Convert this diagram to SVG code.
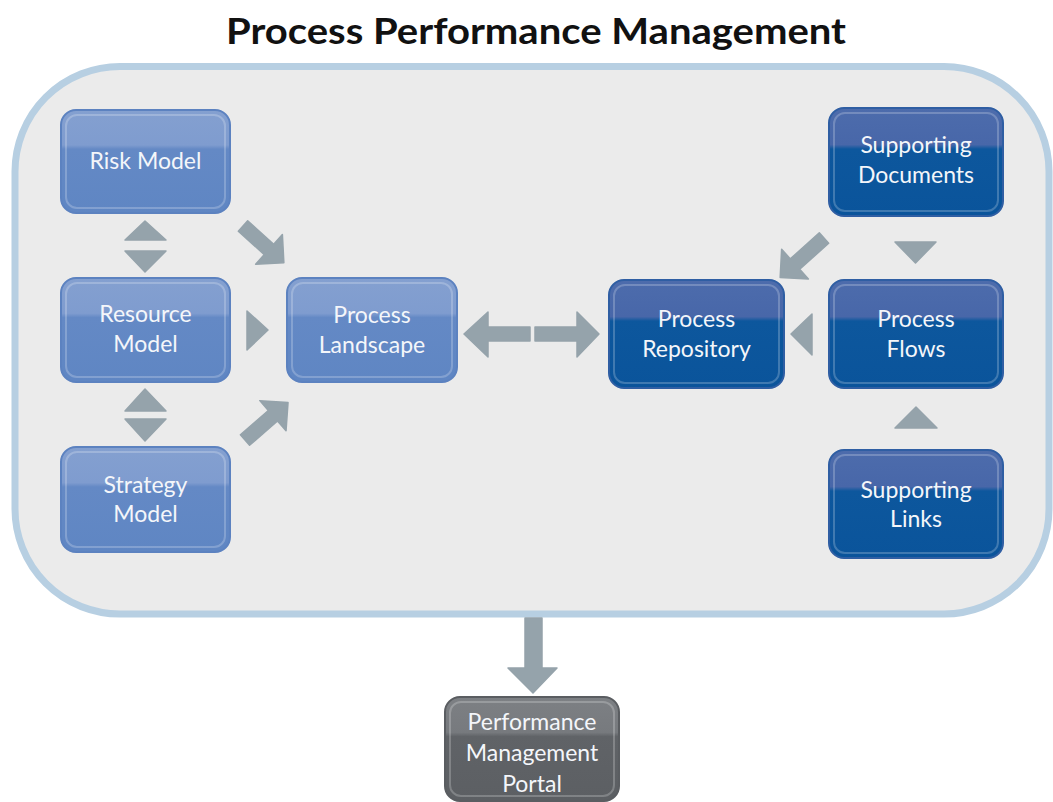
<svg xmlns="http://www.w3.org/2000/svg" width="1053" height="802" viewBox="0 0 1053 802">
<defs>
<linearGradient id="gLight" x1="0" y1="0" x2="0" y2="1">
<stop offset="0" stop-color="#84a0d0"/><stop offset="0.34" stop-color="#7f9ccf"/><stop offset="0.38" stop-color="#6489c5"/><stop offset="1" stop-color="#5f86c3"/>
</linearGradient>
<linearGradient id="gDark" x1="0" y1="0" x2="0" y2="1">
<stop offset="0" stop-color="#4d6cac"/><stop offset="0.34" stop-color="#4867a9"/><stop offset="0.38" stop-color="#0d579d"/><stop offset="1" stop-color="#0a549b"/>
</linearGradient>
<linearGradient id="gGray" x1="0" y1="0" x2="0" y2="1">
<stop offset="0" stop-color="#7d8084"/><stop offset="0.34" stop-color="#777a7e"/><stop offset="0.38" stop-color="#606367"/><stop offset="1" stop-color="#5c5f63"/>
</linearGradient>
<style>
.bg{fill:#ebebeb;stroke:#b7cfe2;stroke-width:7}
.light{fill:url(#gLight);stroke:#5c82c0;stroke-width:2}
.dark{fill:url(#gDark);stroke:#2f5ea3;stroke-width:2}
.gray{fill:url(#gGray);stroke:#5a5d61;stroke-width:2}
.hl{fill:none;stroke:#ffffff;stroke-opacity:0.22;stroke-width:2}
.t{font-family:Lato,"Open Sans","Liberation Sans",sans-serif;font-size:23px;fill:#f4f6fa;text-anchor:middle}
.title{font-family:Lato,"Open Sans","Liberation Sans",sans-serif;font-size:37px;font-weight:bold;fill:#111111;text-anchor:middle}
.arr{fill:#95a3ab;stroke:#95a3ab;stroke-width:1.5;stroke-linejoin:round}
</style>
</defs>
<text class="title" x="536" y="44" textLength="620" lengthAdjust="spacingAndGlyphs">Process Performance Management</text>
<rect class="bg" x="15" y="66.5" width="1034" height="547.5" rx="105"/>

<g id="connectors">
<polygon class="arr" points="145,221 125,240 166,240"/>
<polygon class="arr" points="125,251 166,251 145,272"/>
<polygon class="arr" points="145,389 125,411 166,411"/>
<polygon class="arr" points="125,419 166,419 145,441"/>
<polygon class="arr" points="247,311 247,350 268,330"/>
<polygon class="arr" points="0,-7 35,-7 35,-20 55,0 35,20 35,7 0,7" transform="translate(243,226) rotate(42)"/>
<polygon class="arr" points="0,-7 37,-7 37,-20 57,0 37,20 37,7 0,7" transform="translate(245,440) rotate(-41)"/>
<polygon class="arr" points="530,327 488,327 488,312 464,334 488,357 488,341 530,341"/>
<polygon class="arr" points="535,327 577,327 577,312 599,334 577,357 577,341 535,341"/>
<polygon class="arr" points="0,-7 39,-7 39,-20 59,0 39,20 39,7 0,7" transform="translate(824,238) rotate(138)"/>
<polygon class="arr" points="895,242 936,242 915.5,263"/>
<polygon class="arr" points="812,314 812,355 791,334"/>
<polygon class="arr" points="916,407 895,428 937,428"/>
<polygon class="arr" points="525,618 542,618 542,668 557,668 533,693 508,668 525,668"/>
</g>

<g id="risk-model">
<rect class="light" x="61" y="110" width="169" height="103" rx="15"/>
<rect class="hl" x="66" y="115" width="159" height="93" rx="11"/>
<text class="t" x="145.5" y="169">Risk Model</text>
</g>
<g id="resource-model">
<rect class="light" x="61" y="278" width="169" height="104" rx="15"/>
<rect class="hl" x="66" y="283" width="159" height="94" rx="11"/>
<text class="t" x="145.5" y="322">Resource</text>
<text class="t" x="145.5" y="352">Model</text>
</g>
<g id="strategy-model">
<rect class="light" x="61" y="447" width="169" height="105" rx="15"/>
<rect class="hl" x="66" y="452" width="159" height="95" rx="11"/>
<text class="t" x="145.5" y="493">Strategy</text>
<text class="t" x="145.5" y="522">Model</text>
</g>
<g id="process-landscape">
<rect class="light" x="287" y="278" width="170" height="104" rx="15"/>
<rect class="hl" x="292" y="283" width="160" height="94" rx="11"/>
<text class="t" x="372" y="323">Process</text>
<text class="t" x="372" y="353">Landscape</text>
</g>
<g id="process-repository">
<rect class="dark" x="609" y="280" width="175" height="108" rx="15"/>
<rect class="hl" x="614" y="285" width="165" height="98" rx="11"/>
<text class="t" x="696.5" y="327">Process</text>
<text class="t" x="696.5" y="357">Repository</text>
</g>
<g id="process-flows">
<rect class="dark" x="829" y="280" width="174" height="108" rx="15"/>
<rect class="hl" x="834" y="285" width="164" height="98" rx="11"/>
<text class="t" x="916" y="327">Process</text>
<text class="t" x="916" y="357">Flows</text>
</g>
<g id="supporting-documents">
<rect class="dark" x="829" y="108" width="174" height="108" rx="15"/>
<rect class="hl" x="834" y="113" width="164" height="98" rx="11"/>
<text class="t" x="916" y="153">Supporting</text>
<text class="t" x="916" y="183">Documents</text>
</g>
<g id="supporting-links">
<rect class="dark" x="829" y="450" width="174" height="108" rx="15"/>
<rect class="hl" x="834" y="455" width="164" height="98" rx="11"/>
<text class="t" x="916" y="498">Supporting</text>
<text class="t" x="916" y="527">Links</text>
</g>
<g id="performance-management-portal">
<rect class="gray" x="445" y="697" width="174" height="104" rx="15"/>
<rect class="hl" x="450" y="702" width="164" height="94" rx="11"/>
<text class="t" x="532" y="730">Performance</text>
<text class="t" x="532" y="761">Management</text>
<text class="t" x="532" y="792">Portal</text>
</g>
</svg>
